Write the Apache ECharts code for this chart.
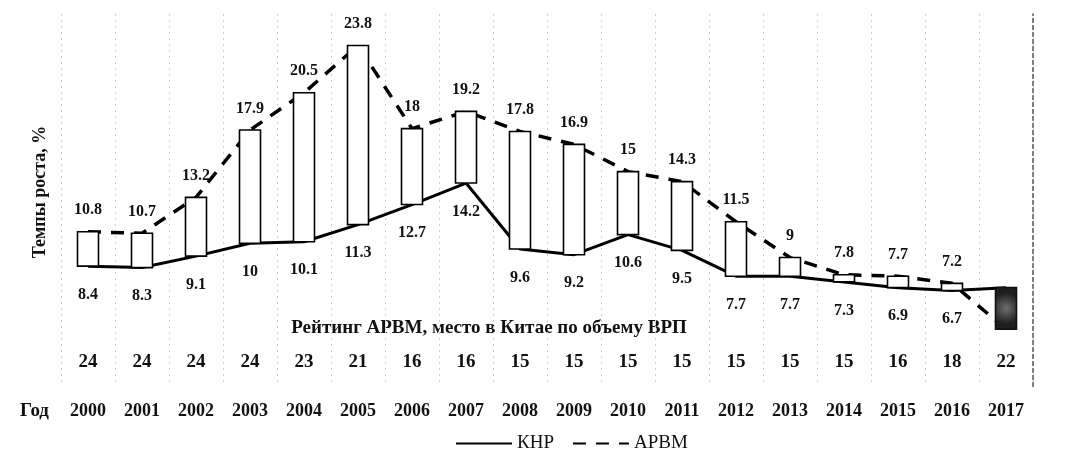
<!DOCTYPE html>
<html>
<head>
<meta charset="utf-8">
<title>Темпы роста ВРП</title>
<script src="https://cdn.jsdelivr.net/npm/echarts@6/dist/echarts.min.js"></script>
<style>
  html, body { margin: 0; padding: 0; background: #fff; }
  #chart { width: 1065px; height: 459px; }
</style>
</head>
<body>
<div id="chart"></div>
<script>
// годы, темпы роста (%) КНР и АРВМ, рейтинг АРВМ по объему ВРП
const years = ['2000', '2001', '2002', '2003', '2004', '2005', '2006', '2007', '2008',
  '2009', '2010', '2011', '2012', '2013', '2014', '2015', '2016', '2017'];
const knr = [8.4, 8.3, 9.1, 10, 10.1, 11.3, 12.7, 14.2, 9.6, 9.2, 10.6, 9.5, 7.7, 7.7, 7.3, 6.9, 6.7, 6.9];
const arvm = [10.8, 10.7, 13.2, 17.9, 20.5, 23.8, 18, 19.2, 17.8, 16.9, 15, 14.3, 11.5, 9, 7.8, 7.7, 7.2, 4.0];
const rating = ['24', '24', '24', '24', '23', '21', '16', '16', '15', '15', '15', '15', '15', '15', '15', '16', '18', '22'];

const serif = 'Liberation Serif';
const last = years.length - 1;

// свеча: от значения КНР до значения АРВМ
const bars = years.map((y, i) => [knr[i], arvm[i], Math.min(knr[i], arvm[i]), Math.max(knr[i], arvm[i])]);

const labelFmt = p => (p.dataIndex === last ? '' : String(p.value));

const chart = echarts.init(document.getElementById('chart'));

chart.setOption({
  backgroundColor: '#fff',
  animation: false,
  grid: { left: 61, right: 32, top: 14, bottom: 72.5 },
  legend: {
    data: ['КНР', 'АРВМ'],
    left: 450,
    top: 429,
    itemWidth: 56,
    itemHeight: 14,
    itemGap: 18,
    textStyle: { fontFamily: serif, fontSize: 19, color: '#111' }
  },
  graphic: [
    {
      type: 'text', x: 40, y: 192, rotation: Math.PI / 2,
      style: { text: 'Темпы роста, %', font: 'bold 18px "Liberation Serif"', fill: '#111',
        textAlign: 'center', textVerticalAlign: 'middle' }
    },
    {
      type: 'text', x: 489, y: 328,
      style: { text: 'Рейтинг АРВМ, место в Китае по объему ВРП', font: 'bold 19px "Liberation Serif"',
        fill: '#111', textAlign: 'center', textVerticalAlign: 'middle' }
    },
    {
      type: 'text', x: 20, y: 411,
      style: { text: 'Год', font: 'bold 19px "Liberation Serif"', fill: '#111',
        textAlign: 'left', textVerticalAlign: 'middle' }
    }
  ],
  xAxis: [
    {
      type: 'category',
      data: years,
      position: 'bottom',
      axisLine: { show: false },
      axisTick: { show: false },
      axisLabel: { interval: 0, margin: 16, fontFamily: serif, fontWeight: 'bold', fontSize: 18, color: '#111' },
      splitLine: { show: true, interval: 0, lineStyle: { color: '#cfcfcf', type: [2, 4] } }
    },
    {
      type: 'category',
      data: rating,
      position: 'bottom',
      axisLine: { show: false },
      axisTick: { show: false },
      axisLabel: { inside: true, interval: 0, margin: 15, fontFamily: serif, fontWeight: 'bold', fontSize: 19, color: '#111' },
      splitLine: { show: false }
    }
  ],
  yAxis: [
    {
      type: 'value', min: 0, max: 26,
      axisLine: { show: false }, axisTick: { show: false },
      axisLabel: { show: false }, splitLine: { show: false }
    },
    {
      type: 'value', min: 0, max: 26, position: 'right',
      axisLine: { show: true, lineStyle: { color: '#555', width: 1.5, type: [4, 3] } },
      axisTick: { show: false }, axisLabel: { show: false }, splitLine: { show: false }
    }
  ],
  series: [
    {
      name: 'КНР',
      type: 'line',
      data: knr,
      z: 1,
      symbol: 'circle',
      symbolSize: 1,
      itemStyle: { color: 'rgba(0,0,0,0)' },
      lineStyle: { color: '#000', width: 3 },
      label: {
        show: true, position: 'bottom', distance: 20, formatter: labelFmt,
        fontFamily: serif, fontWeight: 'bold', fontSize: 16, color: '#111'
      }
    },
    {
      name: 'АРВМ',
      type: 'line',
      data: arvm,
      z: 1,
      symbol: 'circle',
      symbolSize: 1,
      itemStyle: { color: 'rgba(0,0,0,0)' },
      lineStyle: { color: '#000', width: 3.5, type: [13, 10] },
      label: {
        show: true, position: 'top', distance: 13, formatter: labelFmt,
        fontFamily: serif, fontWeight: 'bold', fontSize: 16, color: '#111'
      }
    },
    {
      name: 'разница',
      type: 'candlestick',
      data: bars,
      z: 3,
      barWidth: 21,
      itemStyle: {
        color: '#fff',
        color0: new echarts.graphic.RadialGradient(0.5, 0.5, 0.7, [
          { offset: 0, color: '#6e6e6e' },
          { offset: 1, color: '#1e1e1e' }
        ]),
        borderColor: '#000', borderColor0: '#111', borderWidth: 1.6
      }
    }
  ]
});
</script>
</body>
</html>
